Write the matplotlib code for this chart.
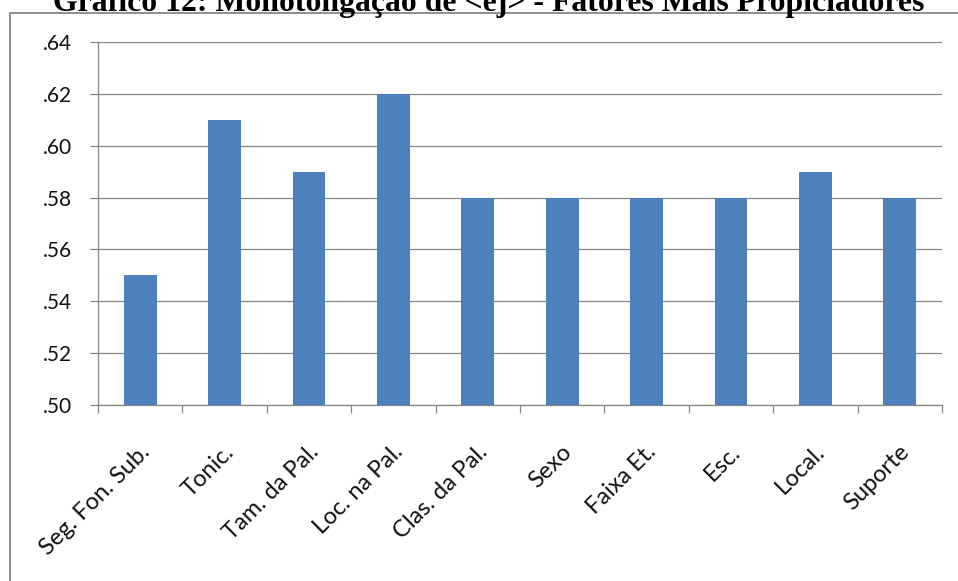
import matplotlib
matplotlib.use("Agg")
import matplotlib.pyplot as plt
from matplotlib.patches import Rectangle
from matplotlib.transforms import ScaledTranslation

title = "Gráfico 12: Monotongação de <ej> - Fatores Mais Propiciadores"
categories = ["Seg. Fon. Sub.", "Tonic.", "Tam. da Pal.", "Loc. na Pal.", "Clas. da Pal.",
              "Sexo", "Faixa Et.", "Esc.", "Local.", "Suporte"]
values = [0.55, 0.61, 0.59, 0.62, 0.58, 0.58, 0.58, 0.58, 0.59, 0.58]
yticks = [0.50, 0.52, 0.54, 0.56, 0.58, 0.60, 0.62, 0.64]
ytick_labels = [".50", ".52", ".54", ".56", ".58", ".60", ".62", ".64"]

W, H = 958, 581
fig = plt.figure(figsize=(W / 100, H / 100), dpi=100)
fig.patch.set_facecolor("white")

# outer chart frame (clipped at right/bottom)
fig.patches.append(Rectangle((10 / W, -0.1), 1.2, 1 - 13 / H + 0.1,
                             transform=fig.transFigure, fill=False,
                             edgecolor="#868686", linewidth=1.3))

ax = fig.add_axes([98 / W, 1 - 405 / H, (942 - 98) / W, (405 - 42) / H])
x = list(range(len(categories)))
ax.bar(x, values, width=0.39, color="#4F81BD", zorder=3)
ax.set_xlim(-0.5, len(categories) - 0.5)
ax.set_ylim(0.50, 0.64)
ax.set_yticks(yticks)
ax.set_yticklabels(ytick_labels)
ax.yaxis.grid(True, color="#868686", linewidth=0.9, zorder=0)
ax.set_axisbelow(True)

for s in ["top", "right"]:
    ax.spines[s].set_visible(False)
for s in ["left", "bottom"]:
    ax.spines[s].set_color("#868686")
    ax.spines[s].set_linewidth(0.9)

# category boundary ticks
ax.set_xticks([i - 0.5 for i in range(len(categories) + 1)], minor=True)
ax.set_xticks(x)
ax.tick_params(axis="x", which="minor", length=6, color="#868686", width=0.9, direction="out")
ax.tick_params(axis="x", which="major", length=0, pad=26)
ax.tick_params(axis="y", length=6, color="#868686", width=0.9, pad=13,
               labelsize=15, labelcolor="#111111")
ax.set_xticklabels(categories, rotation=45, ha="right", va="top",
                   rotation_mode="anchor", fontsize=17, color="#111111")
off = ScaledTranslation(-1 / 100, 0, fig.dpi_scale_trans)
for lab in ax.get_xticklabels():
    lab.set_transform(lab.get_transform() + off)
for lab in ax.get_xticklabels() + ax.get_yticklabels():
    lab.set_fontfamily(["Lato", "DejaVu Sans"])

t = fig.text(53 / W, 1 - 10.5 / H, title, ha="left", va="baseline",
             fontsize=16, fontweight="bold", family=["Liberation Serif", "DejaVu Serif"],
             color="black")
# fit title to width of the original (~874 px)
fig.canvas.draw()
bb = t.get_window_extent()
t.set_fontsize(16 * 874 / bb.width)

fig.savefig("out.png", dpi=100)
